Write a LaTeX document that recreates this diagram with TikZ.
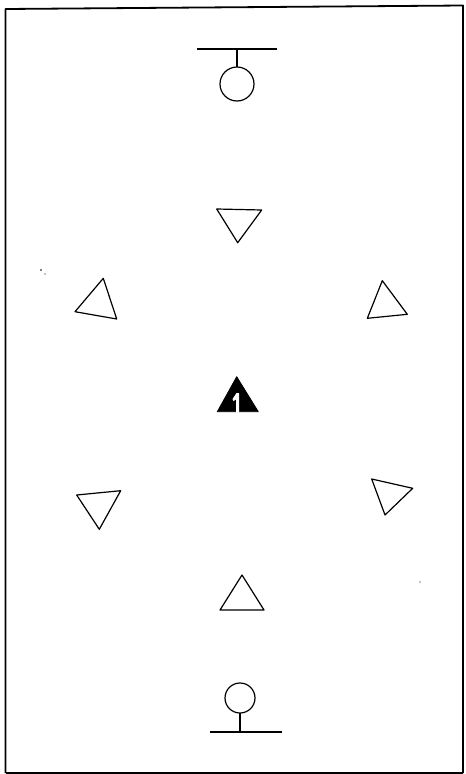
\documentclass[tikz,border=0pt]{standalone}
\begin{document}
\begin{tikzpicture}[x=1pt,y=-1pt,
  frame/.style={line width=1.8pt,line join=round},
  tri/.style={line width=1.2pt,line join=round},
  sym/.style={line width=1.2pt},
  solidtri/.style={fill=black,draw=black,line width=0.8pt,line join=round}]
\useasboundingbox (0,0) rectangle (466,774);
% frame
\draw[frame] (5.5,773) -- (5.5,9) -- (463,5.5) -- (463,773);
\draw[frame] (5.5,773) -- (463,773);
% top symbol
\draw[sym] (197,49) -- (277,49);
\draw[sym] (237,49) -- (237,67);
\draw[sym] (237,84) circle (17);
% bottom symbol
\draw[sym] (210,732) -- (282,732);
\draw[sym] (240,713) -- (240,732);
\draw[sym] (240,698) circle (15);
% open triangles
\draw[tri] (216.7,209) -- (261.7,210) -- (237.7,242.7) -- cycle;
\draw[tri] (103.3,278.3) -- (75,311.7) -- (116.7,319) -- cycle;
\draw[tri] (382.3,280.7) -- (367.3,318.3) -- (407.3,314.3) -- cycle;
\draw[tri] (76.7,495) -- (120.7,490.7) -- (99.3,529.3) -- cycle;
\draw[tri] (371.7,479) -- (412.7,488.3) -- (385,515) -- cycle;
\draw[tri] (242,575) -- (220,610) -- (264,610) -- cycle;
% solid triangle with white mark
\draw[solidtri] (236.7,376.7) -- (217.3,411.7) -- (258.3,411.7) -- cycle;
\fill[white] (232.5,399) -- (236.5,393) -- (239,393) -- (239,412.5) -- (236,412.5) -- (236,399.5) -- (233.5,401) -- cycle;
% specks
\fill (41,270) circle (0.8);
\fill (45,274) circle (0.6);
\fill (420,582) circle (0.6);
\end{tikzpicture}
\end{document}
